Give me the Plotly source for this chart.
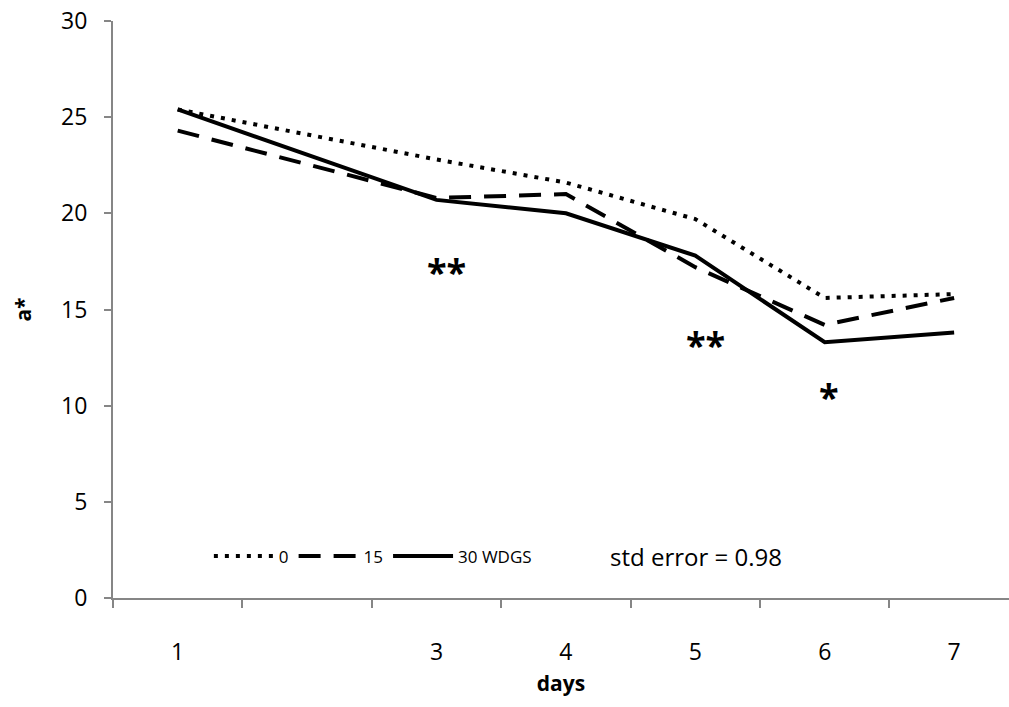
import plotly.graph_objects as go

days = [1, 3, 4, 5, 6, 7]
tick_labels = ["1", "", "3", "4", "5", "6", "7"]
tick_positions = [1, 2, 3, 4, 5, 6, 7]
wdgs0 = [25.4, 22.8, 21.6, 19.7, 15.6, 15.8]
wdgs15 = [24.3, 20.8, 21.0, 17.2, 14.2, 15.6]
wdgs30 = [25.4, 20.7, 20.0, 17.8, 13.3, 13.8]
stars = [("**", 3.08, 17.0), ("**", 5.08, 13.2), ("*", 6.03, 10.5)]

font = "Open Sans"
axis_col = "#868686"

fig = go.Figure()
fig.add_trace(go.Scatter(x=days, y=wdgs0, mode="lines", name="0",
                         line=dict(color="black", width=4, dash="4px,7px")))
fig.add_trace(go.Scatter(x=days, y=wdgs15, mode="lines", name="15",
                         line=dict(color="black", width=4, dash="22px,13px")))
fig.add_trace(go.Scatter(x=days, y=wdgs30, mode="lines", name="30 WDGS",
                         line=dict(color="black", width=4)))

for txt, xv, yv in stars:
    fig.add_annotation(x=xv, y=yv, text="<b>" + txt + "</b>", showarrow=False,
                       font=dict(family=font, size=36, color="black"))

fig.add_annotation(x=0.553, y=0.072, xref="paper", yref="paper", xanchor="left",
                   yanchor="middle",
                   text="std error = 0.98", showarrow=False,
                   font=dict(family=font, size=24, color="black"))

fig.update_layout(
    width=1009, height=707,
    margin=dict(l=113, r=0, t=21, b=109),
    paper_bgcolor="white", plot_bgcolor="white",
    font=dict(family=font, color="black"),
    showlegend=True,
    legend=dict(orientation="h", x=0.107, y=0.072, xanchor="left", yanchor="middle",
                font=dict(family=font, size=17, color="black"),
                itemwidth=60, bgcolor="rgba(0,0,0,0)"),
    xaxis=dict(range=[0.5, 7.424], showgrid=False, zeroline=False, automargin=False,
               showline=True, linecolor=axis_col, linewidth=2,
               tickmode="array", tickvals=tick_positions, ticktext=tick_labels,
               ticks="", ticklabelstandoff=32, ticklabeloverflow="allow",
               tickfont=dict(family=font, size=23, color="black"),
               minor=dict(tickmode="array", tickvals=[0.5, 1.5, 2.5, 3.5, 4.5, 5.5, 6.5],
                          ticks="outside", ticklen=8, tickcolor=axis_col, tickwidth=2),
               title=dict(text="<b>days</b>", font=dict(family=font, size=21, color="black"),
                          standoff=11)),
    yaxis=dict(range=[0, 30], showgrid=False, zeroline=False, automargin=False,
               showline=True, linecolor=axis_col, linewidth=2,
               tickmode="array", tickvals=[0, 5, 10, 15, 20, 25, 30],
               ticks="outside", ticklen=7, tickcolor=axis_col, tickwidth=2,
               ticklabelstandoff=12, ticklabeloverflow="allow",
               tickfont=dict(family=font, size=23, color="black"),
               title=dict(text="<b>a*</b>", font=dict(family=font, size=21, color="black"),
                          standoff=24)),
)

fig.write_html("out.html", config={"displayModeBar": False},
               post_script="document.body.style.margin='0';document.body.style.overflow='hidden';")
